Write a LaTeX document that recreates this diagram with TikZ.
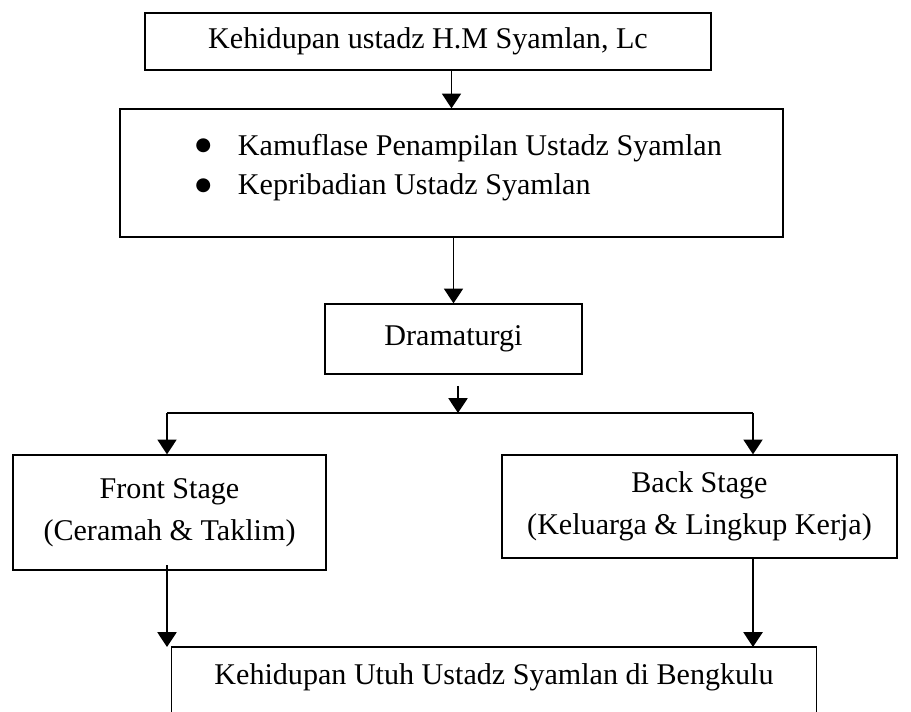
\documentclass[tikz,border=0pt]{standalone}
\usepackage{fontspec}
\setmainfont{Liberation Serif}
\newfontfamily\simbol{DejaVu Sans}
\usepackage{tikz}
\usetikzlibrary{calc,arrows.meta,positioning}

\newcommand{\titik}{\raisebox{3pt}{\simbol\fontsize{13}{13}\selectfont ●}}

\begin{document}
\begin{tikzpicture}[x=0.025cm, y=-0.025cm,
  box/.style={draw, line width=0.9pt, align=center, inner sep=0pt,
    font=\fontsize{21.4}{30}\selectfont},
  arr/.style={-{Triangle[width=13.5pt,length=10.5pt]}, line width=1.4pt},
  garis/.style={line width=1.4pt}]
\useasboundingbox (0,0) rectangle (911,711);
% kotak
\node[box, minimum width=14.15cm, minimum height=1.425cm] (hidup) at (428,41.5) {Kehidupan ustadz H.M Syamlan, Lc};
\node[box, minimum width=16.575cm, minimum height=3.2cm] (pribadi) at (451.5,173) {};
\node[anchor=west, inner sep=0pt, font=\fontsize{21.4}{28.4}\selectfont] (daftar) at (195,167)
  {\begin{tabular}{@{}l@{\hspace{19pt}}l@{}}
   \titik & Kamuflase Penampilan Ustadz Syamlan\\
   \titik & Kepribadian Ustadz Syamlan
   \end{tabular}};
\node[box, minimum width=6.425cm, minimum height=1.75cm] (drama) at (453.5,339) {Dramaturgi};
\node[box, minimum width=7.825cm, minimum height=2.875cm] (front) at (169.5,512.5) {Front Stage\\(Ceramah \& Taklim)};
\node[box, minimum width=9.875cm, minimum height=2.575cm] (back) at (699.5,506.5) {Back Stage\\(Keluarga \& Lingkup Kerja)};
\node[box, draw=none, anchor=north, minimum width=16.1cm, minimum height=1.5cm] (utuh) at (494,647) {Kehidupan Utuh Ustadz Syamlan di Bengkulu};
\draw[line width=0.9pt] ([yshift=-1cm]utuh.south west) |- (utuh.north east) -- ++(0,-2cm);
% panah
\coordinate (cabang) at (458,413);
\coordinate (kiri) at (167,413);
\coordinate (kanan) at (753,413);
\draw[arr] (hidup.south -| pribadi) -- (pribadi.north);
\draw[arr] (pribadi.south -| drama) -- (drama.north);
\draw[arr, shorten <=8pt] (drama.south -| cabang) -- (cabang);
\draw[garis] (kiri) -- (kanan);
\draw[arr] (kiri) -- (kiri |- front.north);
\draw[arr] (kanan) -- (kanan |- back.north);
\draw[arr] ([yshift=4pt]front.south -| kiri) -- (kiri |- utuh.north);
\draw[arr] (back.south -| kanan) -- (kanan |- utuh.north);
\end{tikzpicture}
\end{document}
